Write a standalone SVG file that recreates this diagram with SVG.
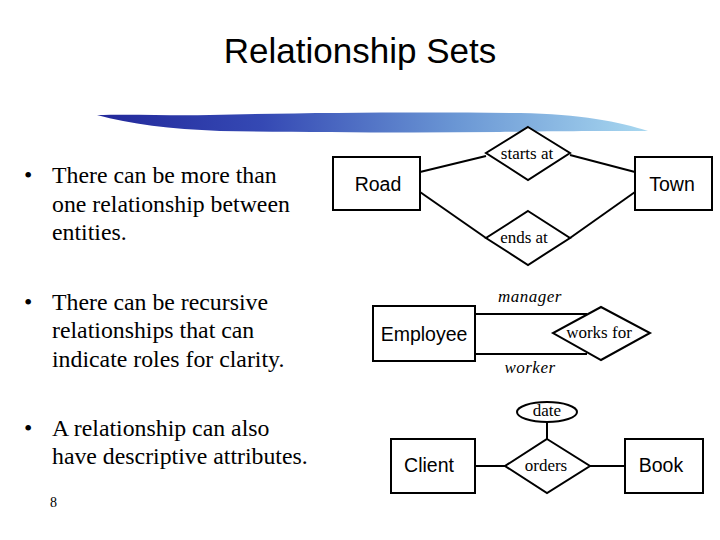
<svg xmlns="http://www.w3.org/2000/svg" width="720" height="540" viewBox="0 0 720 540">
<defs>
<linearGradient id="brush" x1="97" y1="0" x2="648" y2="0" gradientUnits="userSpaceOnUse">
<stop offset="0" stop-color="#22289a"/>
<stop offset="0.3" stop-color="#3549b4"/>
<stop offset="0.65" stop-color="#6a96d4"/>
<stop offset="1" stop-color="#a8d8f0"/>
</linearGradient>
<style>
.bul{font-family:"Liberation Serif","Times New Roman",serif;font-size:23.8px;fill:#000}
.ent{font-family:"Liberation Sans",Arial,sans-serif;font-size:19.5px;fill:#000;text-anchor:middle}
.rel{font-family:"Liberation Serif","Times New Roman",serif;font-size:17px;fill:#000;text-anchor:middle}
.role{font-family:"Liberation Serif","Times New Roman",serif;font-size:17px;font-style:italic;fill:#000;text-anchor:middle;letter-spacing:0.5px}
.box{fill:#fff;stroke:#000;stroke-width:2}
.edge{stroke:#000;stroke-width:2;fill:none}
</style>
</defs>
<rect width="720" height="540" fill="#fff"/>
<text x="360" y="63" font-family="'Liberation Sans',Arial,sans-serif" font-size="35" text-anchor="middle">Relationship Sets</text>
<path d="M97,115 C140,114 170,116 210,115 C300,113 400,112 520,113 C580,114 620,122 648,131 C600,131 560,131 500,132 C400,133 300,132 220,131 C170,129 130,124 97,115 Z" fill="url(#brush)"/>

<g id="bullets">
<text class="bul" x="24" y="183">•</text>
<text class="bul" x="52" y="183">There can be more than</text>
<text class="bul" x="52" y="212">one relationship between</text>
<text class="bul" x="52" y="240">entities.</text>
<text class="bul" x="24" y="310">•</text>
<text class="bul" x="52" y="310">There can be recursive</text>
<text class="bul" x="52" y="338">relationships that can</text>
<text class="bul" x="52" y="367">indicate roles for clarity.</text>
<text class="bul" x="24" y="436">•</text>
<text class="bul" x="52" y="436">A relationship can also</text>
<text class="bul" x="52" y="464">have descriptive attributes.</text>
<text x="50" y="507" font-family="'Liberation Serif','Times New Roman',serif" font-size="14">8</text>
</g>

<g id="connectors">
<line class="edge" x1="420" y1="172" x2="486" y2="156"/>
<line class="edge" x1="570" y1="155" x2="635" y2="172"/>
<line class="edge" x1="420" y1="192" x2="486" y2="238"/>
<line class="edge" x1="570" y1="238" x2="635" y2="192"/>
<line class="edge" x1="475" y1="314" x2="587" y2="314"/>
<line class="edge" x1="475" y1="354" x2="587" y2="354"/>
<line class="edge" x1="475" y1="466" x2="505" y2="466"/>
<line class="edge" x1="590" y1="466" x2="625" y2="466"/>
<line class="edge" x1="547" y1="422" x2="547" y2="439"/>
</g>

<g id="road">
<rect class="box" x="333" y="157" width="87" height="53"/>
<text class="ent" x="378" y="191">Road</text>
</g>
<g id="town">
<rect class="box" x="635" y="157" width="77" height="53"/>
<text class="ent" x="672" y="191">Town</text>
</g>
<g id="starts-at">
<polygon class="box" points="528,127 570,153 528,180 486,153"/>
<text class="rel" x="527" y="159">starts at</text>
</g>
<g id="ends-at">
<polygon class="box" points="528,211 570,238 528,265 486,238"/>
<text class="rel" x="524" y="243">ends at</text>
</g>

<g id="employee">
<rect class="box" x="373" y="306" width="102" height="55"/>
<text class="ent" x="424" y="341">Employee</text>
</g>
<g id="works-for">
<polygon class="box" points="601,307 650,333 601,360 553,333"/>
<text class="rel" x="599" y="338">works for</text>
</g>
<text class="role" x="530" y="302">manager</text>
<text class="role" x="530" y="373">worker</text>

<g id="client">
<rect class="box" x="391" y="439" width="84" height="54"/>
<text class="ent" x="429" y="472">Client</text>
</g>
<g id="orders">
<polygon class="box" points="547,439 590,466 547,493 505,466"/>
<text class="rel" x="546" y="471">orders</text>
</g>
<g id="date">
<ellipse class="box" cx="547" cy="412" rx="30" ry="10"/>
<text class="rel" x="547" y="416">date</text>
</g>
<g id="book">
<rect class="box" x="625" y="439" width="78" height="54"/>
<text class="ent" x="661" y="472">Book</text>
</g>
</svg>
